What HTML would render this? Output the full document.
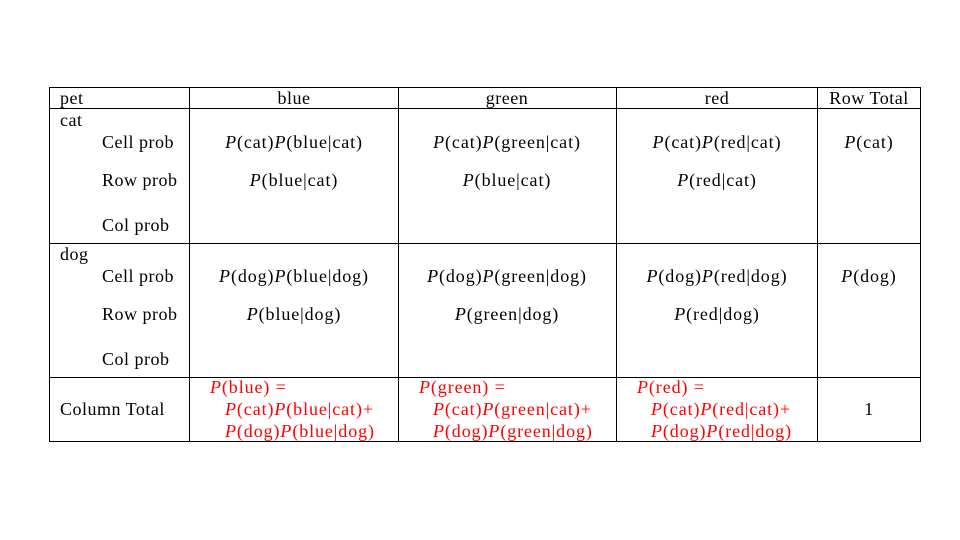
<!DOCTYPE html>
<html><head><meta charset="utf-8"><style>
body{margin:0;width:960px;height:540px;background:#fff;position:relative;overflow:hidden;font-family:"Liberation Serif",serif;font-size:18px;letter-spacing:0.5px;color:#000}
.l{position:absolute;background:#000}
.t{position:absolute;white-space:nowrap;line-height:20px;transform:translateY(-10px)}
.c{transform:translate(-50%,-10px)}
.m{letter-spacing:0.9px}
.r{color:#f00;letter-spacing:0.9px}
i{font-style:italic}
</style></head><body>
<div class="l" style="left:49px;top:87px;width:872px;height:1px"></div>
<div class="l" style="left:49px;top:108px;width:872px;height:1px"></div>
<div class="l" style="left:49px;top:243px;width:872px;height:1px"></div>
<div class="l" style="left:49px;top:377px;width:872px;height:1px"></div>
<div class="l" style="left:49px;top:441px;width:872px;height:1px"></div>
<div class="l" style="left:49px;top:87px;width:1px;height:355px"></div>
<div class="l" style="left:189px;top:87px;width:1px;height:355px"></div>
<div class="l" style="left:398px;top:87px;width:1px;height:355px"></div>
<div class="l" style="left:616px;top:87px;width:1px;height:355px"></div>
<div class="l" style="left:817px;top:87px;width:1px;height:355px"></div>
<div class="l" style="left:920px;top:87px;width:1px;height:355px"></div>

<div class="t" style="left:60px;top:98px">pet</div>
<div class="t c" style="left:294px;top:98px">blue</div>
<div class="t c" style="left:507px;top:98px">green</div>
<div class="t c" style="left:717px;top:98px">red</div>
<div class="t c" style="left:869px;top:98px">Row Total</div>

<div class="t" style="left:60px;top:120px">cat</div>
<div class="t" style="left:102px;top:142px">Cell prob</div>
<div class="t" style="left:102px;top:180px">Row prob</div>
<div class="t" style="left:102px;top:225px">Col prob</div>
<div class="t c m" style="left:294px;top:142px"><i>P</i>(cat)<i>P</i>(blue|cat)</div>
<div class="t c m" style="left:507px;top:142px"><i>P</i>(cat)<i>P</i>(green|cat)</div>
<div class="t c m" style="left:717px;top:142px"><i>P</i>(cat)<i>P</i>(red|cat)</div>
<div class="t c m" style="left:869px;top:142px"><i>P</i>(cat)</div>
<div class="t c m" style="left:294px;top:180px"><i>P</i>(blue|cat)</div>
<div class="t c m" style="left:507px;top:180px"><i>P</i>(blue|cat)</div>
<div class="t c m" style="left:717px;top:180px"><i>P</i>(red|cat)</div>

<div class="t" style="left:60px;top:254px">dog</div>
<div class="t" style="left:102px;top:276px">Cell prob</div>
<div class="t" style="left:102px;top:314px">Row prob</div>
<div class="t" style="left:102px;top:359px">Col prob</div>
<div class="t c m" style="left:294px;top:276px"><i>P</i>(dog)<i>P</i>(blue|dog)</div>
<div class="t c m" style="left:507px;top:276px"><i>P</i>(dog)<i>P</i>(green|dog)</div>
<div class="t c m" style="left:717px;top:276px"><i>P</i>(dog)<i>P</i>(red|dog)</div>
<div class="t c m" style="left:869px;top:276px"><i>P</i>(dog)</div>
<div class="t c m" style="left:294px;top:314px"><i>P</i>(blue|dog)</div>
<div class="t c m" style="left:507px;top:314px"><i>P</i>(green|dog)</div>
<div class="t c m" style="left:717px;top:314px"><i>P</i>(red|dog)</div>

<div class="t" style="left:60px;top:409px">Column Total</div>
<div class="t c" style="left:869px;top:409px">1</div>
<div class="t r" style="left:210px;top:387px"><i>P</i>(blue) =</div>
<div class="t r" style="left:225px;top:409px"><i>P</i>(cat)<i>P</i>(blue|cat)+</div>
<div class="t r" style="left:225px;top:431px"><i>P</i>(dog)<i>P</i>(blue|dog)</div>
<div class="t r" style="left:419px;top:387px"><i>P</i>(green) =</div>
<div class="t r" style="left:433px;top:409px"><i>P</i>(cat)<i>P</i>(green|cat)+</div>
<div class="t r" style="left:433px;top:431px"><i>P</i>(dog)<i>P</i>(green|dog)</div>
<div class="t r" style="left:637px;top:387px"><i>P</i>(red) =</div>
<div class="t r" style="left:651px;top:409px"><i>P</i>(cat)<i>P</i>(red|cat)+</div>
<div class="t r" style="left:651px;top:431px"><i>P</i>(dog)<i>P</i>(red|dog)</div>
</body></html>
